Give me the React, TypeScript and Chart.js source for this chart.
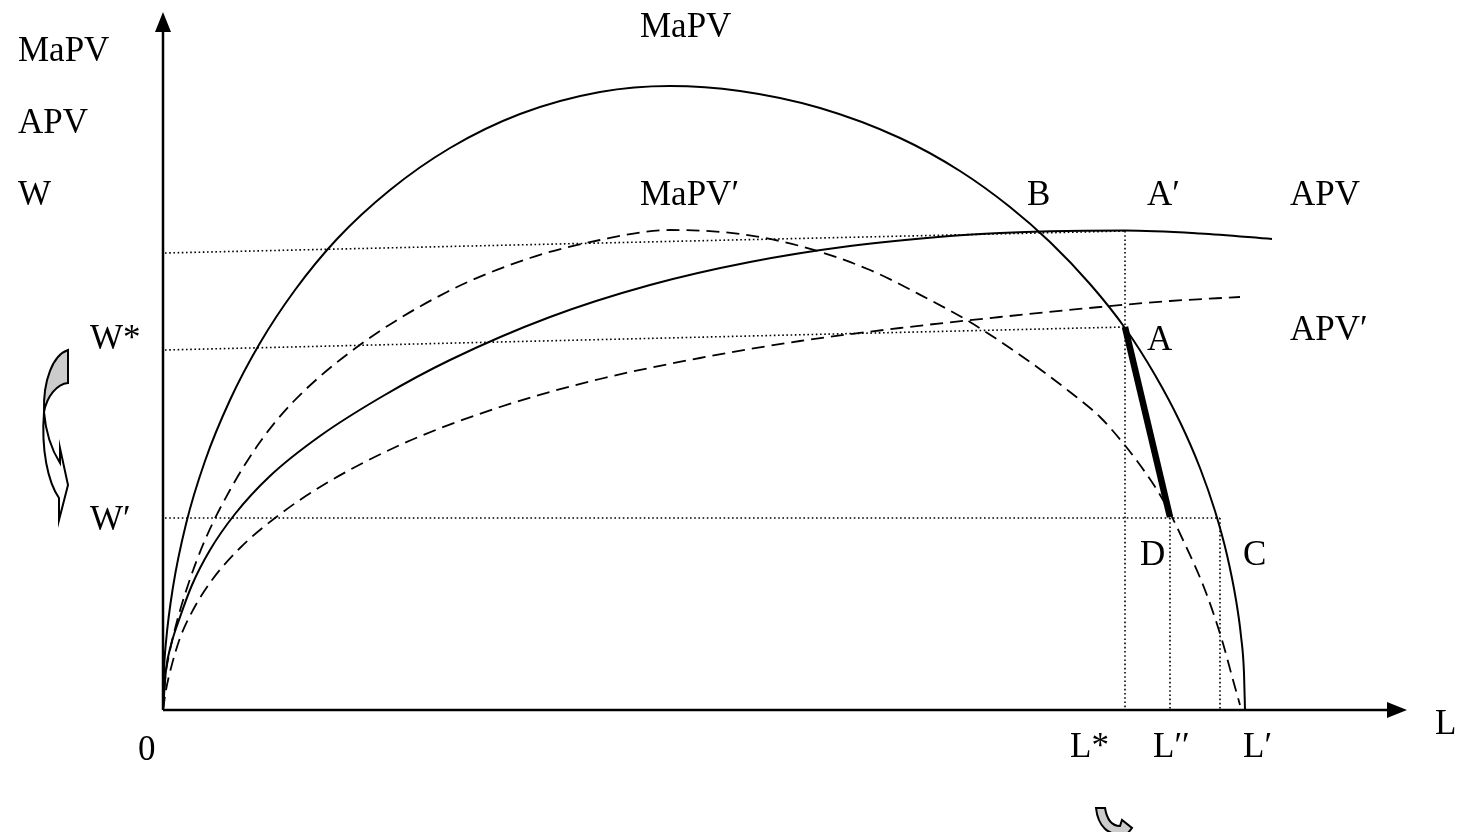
import React, { useEffect, useRef } from "react";
import { Chart, registerables } from "chart.js";

Chart.register(...registerables);

// Data coordinates: L on x, value on y (arbitrary units)
const mapv: [number, number][] = [
  [0, 0], [0.1, 3.9], [0.3, 6.8], [1.0, 12.3], [2.3, 18.6], [4.2, 24.9], [6.7, 31.0],
  [9.7, 36.7], [13.2, 42.0], [17.4, 47.1], [22.7, 52.0], [28.7, 56.2], [35.7, 59.6],
  [43.7, 61.8], [50.7, 62.4], [57.7, 61.9], [65.7, 60.2], [73.7, 57.2], [79.7, 53.9],
  [84.7, 50.3], [88.7, 46.8], [92.7, 42.6], [96.2, 38.2], [99.2, 33.5], [101.7, 28.8],
  [103.7, 24.2], [105.2, 19.9], [106.4, 15.5], [107.3, 11.0], [107.8, 7.4], [108.1, 3.7],
  [108.2, 0],
];
const mapvPrime: [number, number][] = [
  [0, 0], [0.2, 3.0], [0.6, 5.5], [1.3, 8.5], [2.5, 12.5], [4.2, 17.0], [6.7, 22.0],
  [9.7, 26.8], [13.0, 30.8], [19.4, 36.3], [28.4, 41.8], [36.7, 45.2], [43.7, 47.0],
  [50.7, 48.0], [57.7, 47.6], [63.7, 46.4], [70.7, 44.0], [76.7, 41.0], [80.7, 38.8],
  [86.7, 34.8], [90.7, 31.8], [93.7, 29.3], [96.0, 26.7], [98.2, 23.8], [100.0, 21.0],
  [102.0, 17.0], [104.2, 12.0], [105.9, 7.0], [107.0, 3.0], [107.7, 0.5],
];
const apv: [number, number][] = [
  [0, 0], [0.3, 4.0], [0.8, 6.5], [1.6, 9.0], [2.9, 12.5], [4.7, 16.0], [7.2, 19.6],
  [10.7, 23.4], [15.7, 27.4], [22.0, 31.4], [28.7, 35.0], [38.7, 39.3], [48.7, 42.5],
  [58.7, 44.8], [68.7, 46.4], [78.7, 47.4], [83.7, 47.7], [88.7, 47.88], [96.2, 47.95],
  [103.7, 47.65], [110.9, 47.1],
];
const apvPrime: [number, number][] = [
  [0, 0], [0.3, 2.0], [0.8, 4.2], [1.7, 7.2], [3.0, 10.0], [4.9, 13.0], [7.7, 16.2],
  [11.2, 19.2], [15.7, 22.3], [23.7, 26.5], [33.7, 30.3], [43.7, 33.1], [53.7, 35.2],
  [63.7, 36.9], [73.7, 38.2], [83.7, 39.3], [93.7, 40.3], [100.7, 40.9], [107.7, 41.3],
];
const guideTop: [number, number][] = [[0.2, 45.7], [96.2, 47.9]];
const guideWStar: [number, number][] = [[0.2, 36.0], [96.2, 38.3]];
const guideWPrime: [number, number][] = [[0.2, 19.2], [105.7, 19.2]];
const guideLStar: [number, number][] = [[96.2, 47.9], [96.2, 0]];
const guideL2: [number, number][] = [[100.7, 19.2], [100.7, 0]];
const guideL1: [number, number][] = [[105.7, 19.2], [105.7, 0]];
const shiftSegment: [number, number][] = [[96.2, 38.3], [100.7, 19.3]];
const yAxisLine: [number, number][] = [[0, 0], [0, 68.5]];
const xAxisLine: [number, number][] = [[0, 0], [123.5, 0]];

const textLabels = ["MaPV", "APV", "W", "MaPV", "MaPV′", "B", "A′", "APV", "APV′", "W*", "A", "W′", "D", "C", "0", "L*", "L′′", "L′", "L"];
const labelX = [-14.5, -14.5, -14.5, 47.7, 47.7, 86.4, 98.4, 112.7, 112.7, -7.3, 98.4, -7.3, 97.7, 108.0, -2.5, 90.7, 99.0, 108.0, 127.2];
const labelY = [64.9, 57.7, 50.5, 67.3, 50.5, 50.5, 50.5, 50.5, 37.0, 36.1, 36.0, 18.0, 14.5, 14.5, -5.0, -4.7, -4.7, -4.7, -2.4];

const toPts = (a: [number, number][]) => a.map(([x, y]) => ({ x, y }));

const decorPlugin = {
  id: "decor",
  afterDatasetsDraw(chart: any) {
    const { ctx, scales } = chart;
    const xs = scales.x;
    const ys = scales.y;
    const px = (v: number) => xs.getPixelForValue(v);
    const py = (v: number) => ys.getPixelForValue(v);
    ctx.save();
    // axis arrowheads
    ctx.fillStyle = "#000";
    const ox = px(0);
    const topY = py(69.8);
    ctx.beginPath();
    ctx.moveTo(ox, topY);
    ctx.lineTo(ox - 8, topY + 20);
    ctx.lineTo(ox + 8, topY + 20);
    ctx.closePath();
    ctx.fill();
    const oy = py(0);
    const rightX = px(124.4);
    ctx.beginPath();
    ctx.moveTo(rightX, oy);
    ctx.lineTo(rightX - 20, oy - 8);
    ctx.lineTo(rightX - 20, oy + 8);
    ctx.closePath();
    ctx.fill();

    // text labels
    ctx.font = '35px "Liberation Serif", serif';
    ctx.textBaseline = "alphabetic";
    ctx.textAlign = "left";
    for (let i = 0; i < textLabels.length; i++) {
      ctx.fillText(textLabels[i], px(labelX[i]), py(labelY[i]));
    }

    // curved downward arrow on the left (W* -> W')
    const ax = px(-9.5);
    const ay = py(36.0);
    ctx.lineWidth = 2;
    ctx.strokeStyle = "#000";
    ctx.lineJoin = "miter";
    ctx.beginPath();
    ctx.moveTo(ax, ay);
    ctx.bezierCurveTo(ax - 15, ay + 5, ax - 25, ay + 30, ax - 24, ay + 62);
    ctx.bezierCurveTo(ax - 21, ay + 46, ax - 11, ay + 34, ax, ay + 33);
    ctx.closePath();
    ctx.fillStyle = "#cccccc";
    ctx.fill();
    ctx.stroke();

    ctx.beginPath();
    ctx.moveTo(ax - 24, ay + 62);
    ctx.bezierCurveTo(ax - 22, ay + 85, ax - 15, ay + 102, ax - 8, ay + 113);
    ctx.lineTo(ax - 8, ay + 98);
    ctx.lineTo(ax, ay + 135);
    ctx.lineTo(ax - 9, ay + 170);
    ctx.lineTo(ax - 9, ay + 148);
    ctx.bezierCurveTo(ax - 20, ay + 132, ax - 27, ay + 100, ax - 24, ay + 62);
    ctx.closePath();
    ctx.fillStyle = "#ffffff";
    ctx.fill();
    ctx.stroke();

    // small curved arrow below L'' (cut by the bottom edge)
    const bx = px(93.3);
    const by = py(-9.8);
    ctx.beginPath();
    ctx.moveTo(bx, by);
    ctx.lineTo(bx + 9, by);
    ctx.bezierCurveTo(bx + 11, by + 12, bx + 16, by + 18, bx + 24, by + 18);
    ctx.lineTo(bx + 26, by + 12);
    ctx.lineTo(bx + 36, by + 20);
    ctx.lineTo(bx + 28, by + 30);
    ctx.lineTo(bx + 27, by + 26);
    ctx.bezierCurveTo(bx + 12, by + 28, bx + 2, by + 18, bx, by);
    ctx.closePath();
    ctx.fillStyle = "#cccccc";
    ctx.fill();
    ctx.stroke();
    ctx.restore();
  },
};

export default function App() {
  const ref = useRef<HTMLCanvasElement | null>(null);
  useEffect(() => {
    if (!ref.current) return;
    const solid = (data: [number, number][], w = 2) => ({
      data: toPts(data),
      showLine: true,
      borderColor: "#000",
      borderWidth: w,
      pointRadius: 0,
      cubicInterpolationMode: "monotone",
      fill: false,
    });
    const dashed = (data: [number, number][]) => ({
      ...solid(data, 1.8),
      borderDash: [13, 7],
    });
    const dotted = (data: [number, number][]) => ({
      ...solid(data, 1.6),
      cubicInterpolationMode: "default",
      tension: 0,
      borderDash: [1.6, 2.6],
    });
    const chart = new Chart(ref.current, {
      type: "scatter",
      data: {
        datasets: [
          { ...solid(xAxisLine, 2.5), cubicInterpolationMode: "default", tension: 0 },
          { ...solid(yAxisLine, 2.5), cubicInterpolationMode: "default", tension: 0 },
          dotted(guideTop),
          dotted(guideWStar),
          dotted(guideWPrime),
          dotted(guideLStar),
          dotted(guideL2),
          dotted(guideL1),
          solid(mapv, 2),
          dashed(mapvPrime),
          solid(apv, 2),
          dashed(apvPrime),
          { ...solid(shiftSegment, 6.5), cubicInterpolationMode: "default", tension: 0 },
        ] as any,
      },
      options: {
        responsive: false,
        animation: false,
        devicePixelRatio: 1,
        layout: { padding: 0 },
        plugins: { legend: { display: false }, tooltip: { enabled: false } },
        scales: {
          x: { type: "linear", min: -16.3, max: 129.6, display: false },
          y: { type: "linear", min: -12.2, max: 71.0, display: false },
        },
      },
      plugins: [decorPlugin],
    });
    return () => chart.destroy();
  }, []);
  return (
    <div style={{ position: "fixed", left: 0, top: 0, width: 1459, height: 832, background: "#fff" }}>
      <canvas ref={ref} width={1459} height={832} style={{ display: "block" }} />
    </div>
  );
}
